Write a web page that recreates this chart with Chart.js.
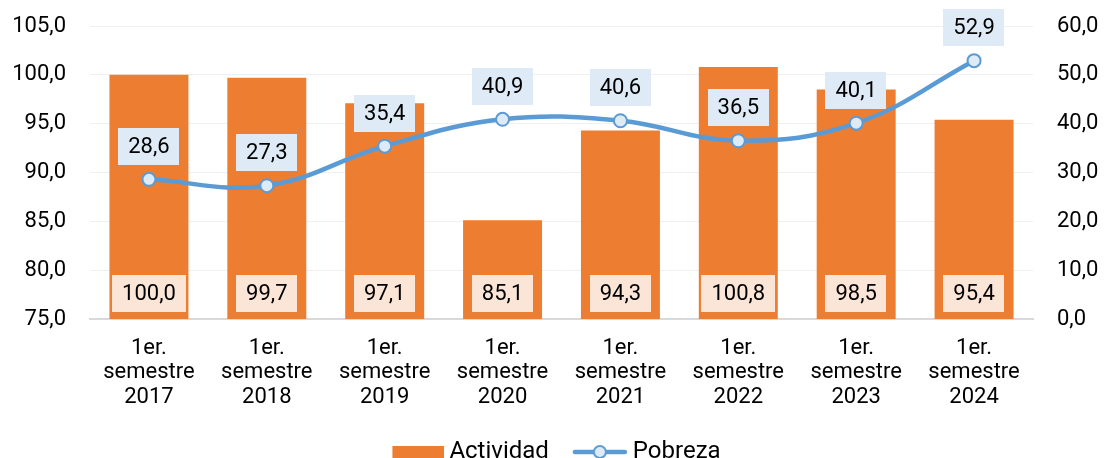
<!DOCTYPE html>
<html>
<head>
<meta charset="utf-8">
<script src="https://cdn.jsdelivr.net/npm/chart.js@4.4.1/dist/chart.umd.min.js"></script>
<style>
  html, body { margin: 0; padding: 0; background: #fff; }
  #wrap { width: 1104px; height: 458px; }
</style>
</head>
<body>
<div id="wrap"><canvas id="chart"></canvas></div>
<script>
const categories = [
    ['1er.', 'semestre', '2017'],
    ['1er.', 'semestre', '2018'],
    ['1er.', 'semestre', '2019'],
    ['1er.', 'semestre', '2020'],
    ['1er.', 'semestre', '2021'],
    ['1er.', 'semestre', '2022'],
    ['1er.', 'semestre', '2023'],
    ['1er.', 'semestre', '2024']
];
const actividad = [100.0, 99.7, 97.1, 85.1, 94.3, 100.8, 98.5, 95.4];
const pobreza = [28.6, 27.3, 35.4, 40.9, 40.6, 36.5, 40.1, 52.9];

const leftAxis = { min: 75, max: 105, step: 5 };
const rightAxis = { min: 0, max: 60, step: 10 };

const ORANGE = '#ED7D31';
const BLUE = '#5B9BD5';
const FONT = 'Roboto';

const fmt = v => v.toFixed(1).replace('.', ',');

// little boxed value labels (no datalabels plugin available offline)
function drawBox(ctx, text, cx, cy, bg) {
    const w = ctx.measureText(text).width + 20;
    const h = 37;
    ctx.fillStyle = bg;
    ctx.fillRect(Math.round(cx - w / 2), Math.round(cy - h / 2), Math.round(w), h);
    ctx.fillStyle = '#000';
    ctx.fillText(text, cx, cy + 1);
}

const boxLabels = {
    id: 'boxLabels',
    beforeInit(chart) {
        // fixed legend height so the plot bottom lands where it should
        const lg = chart.legend;
        if (lg) {
            const fit = lg.fit;
            lg.fit = function () { fit.call(this); this.height = 36; };
        }
    },
    afterDatasetsDraw(chart) {
        const ctx = chart.ctx;
        ctx.save();
        ctx.font = '22px ' + FONT;
        ctx.textAlign = 'center';
        ctx.textBaseline = 'middle';
        const bottom = chart.scales.y.bottom;
        chart.getDatasetMeta(1).data.forEach((bar, i) => {
            drawBox(ctx, fmt(actividad[i]), bar.x, bottom - 26, '#FBE5D6');
        });
        chart.getDatasetMeta(0).data.forEach((pt, i) => {
            drawBox(ctx, fmt(pobreza[i]), pt.x, pt.y - 33, '#DEEBF7');
        });
        ctx.restore();
    }
};

// legend symbols, drawn right-aligned in a 68px wide canvas
function legendIcon(kind) {
    const c = document.createElement('canvas');
    c.width = 68; c.height = 16;
    const g = c.getContext('2d');
    if (kind === 'bar') {
        g.fillStyle = ORANGE;
        g.fillRect(16, 2, 52, 12);
    } else {
        g.strokeStyle = BLUE;
        g.lineWidth = 4.5;
        g.lineCap = 'round';
        g.beginPath(); g.moveTo(15, 8); g.lineTo(65, 8); g.stroke();
        g.beginPath(); g.arc(40, 8, 6, 0, Math.PI * 2);
        g.fillStyle = '#DEEBF7'; g.fill();
        g.lineWidth = 2; g.stroke();
    }
    return c;
}
const icons = [legendIcon('bar'), legendIcon('line')];

// the vertical axes should not reserve tick padding above/below the plot
const noVPad = s => { s.paddingTop = 12; s.paddingBottom = 12; };

const ctx = document.getElementById('chart');
const chart = new Chart(ctx, {
    data: {
        labels: categories,
        datasets: [
            {
                type: 'line',
                label: 'Pobreza',
                data: pobreza,
                yAxisID: 'y1',
                borderColor: BLUE,
                borderWidth: 4.5,
                tension: 0.4,
                pointRadius: 6.5,
                pointBorderWidth: 2,
                pointBackgroundColor: '#DEEBF7',
                pointBorderColor: BLUE,
                order: 0
            },
            {
                type: 'bar',
                label: 'Actividad',
                data: actividad,
                yAxisID: 'y',
                backgroundColor: ORANGE,
                barPercentage: 0.67,
                categoryPercentage: 1.0,
                order: 1
            }
        ]
    },
    options: {
        responsive: true,
        maintainAspectRatio: false,
        animation: false,
        layout: { padding: { top: 26, left: 0, right: 0, bottom: 0 } },
        plugins: {
            tooltip: { enabled: false },
            legend: {
                position: 'bottom',
                labels: {
                    usePointStyle: true,
                    pointStyleWidth: 54,
                    padding: 18,
                    color: '#000',
                    font: { family: FONT, size: 24 },
                    generateLabels: () => ['Actividad', 'Pobreza'].map((t, i) => ({
                        text: t,
                        pointStyle: icons[i],
                        fillStyle: 'transparent',
                        strokeStyle: 'transparent',
                        lineWidth: 0,
                        hidden: false,
                        datasetIndex: i === 0 ? 1 : 0
                    }))
                }
            }
        },
        scales: {
            x: {
                grid: { display: false },
                border: { display: true, color: '#D9D9D9', width: 2 },
                ticks: {
                    color: '#000',
                    padding: 9,
                    maxRotation: 0,
                    autoSkip: false,
                    font: { family: FONT, size: 22, lineHeight: 1.12 }
                },
                afterFit: s => { s.height = 103; }
            },
            y: {
                position: 'left',
                min: leftAxis.min,
                max: leftAxis.max,
                grid: { color: '#F0F0F0', lineWidth: 1, drawTicks: false },
                border: { display: false },
                ticks: {
                    stepSize: leftAxis.step,
                    color: '#000',
                    padding: 24,
                    font: { family: FONT, size: 22 },
                    callback: v => fmt(v)
                },
                afterFit: s => { s.width = 90; noVPad(s); }
            },
            y1: {
                position: 'right',
                min: rightAxis.min,
                max: rightAxis.max,
                grid: { display: false, drawTicks: false },
                border: { display: false },
                ticks: {
                    stepSize: rightAxis.step,
                    color: '#000',
                    padding: 24,
                    font: { family: FONT, size: 22 },
                    callback: v => fmt(v)
                },
                afterFit: s => { s.width = 71; noVPad(s); }
            }
        }
    },
    plugins: [boxLabels]
});
</script>
</body>
</html>
